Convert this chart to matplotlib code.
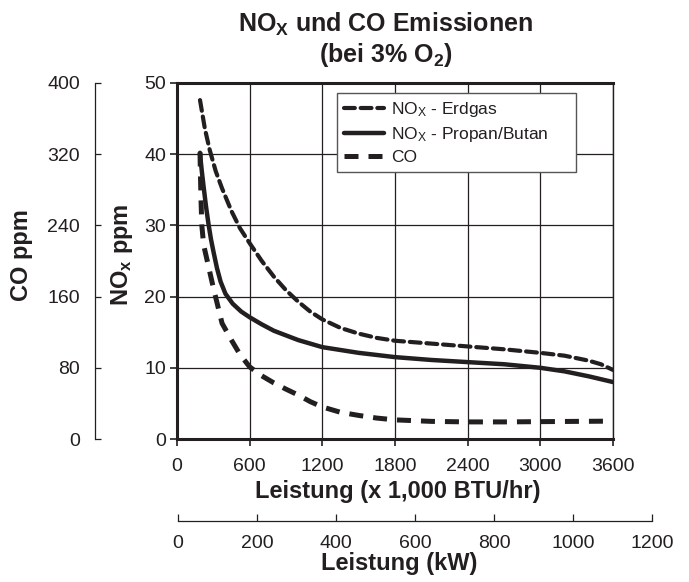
import matplotlib
matplotlib.use("Agg")
from matplotlib import pyplot as plt

# Leistung in 1000 BTU/hr, Emissionen in ppm (bei 3% O2)
erdgas_kbtu = [190, 230, 270, 320, 372, 450, 520, 600, 700, 800, 900, 1000, 1100, 1200,
               1350, 1500, 1650, 1800, 2100, 2400, 2700, 3000, 3200, 3400, 3500, 3600]
erdgas_nox = [47.6, 43.6, 40.6, 37.6, 35.2, 32.0, 29.6, 27.5, 25.0, 22.8, 20.9, 19.3, 17.9, 16.8,
              15.6, 14.8, 14.2, 13.8, 13.4, 13.0, 12.6, 12.1, 11.7, 11.0, 10.5, 9.7]

propan_kbtu = [190, 195, 205, 220, 240, 260, 280, 300, 330, 360, 400, 460, 530, 600, 700, 800,
               1000, 1200, 1500, 1800, 2100, 2400, 2700, 3000, 3200, 3400, 3600]
propan_nox = [40.2, 39.2, 37.6, 35.4, 32.6, 30.2, 28.1, 26.4, 24.0, 22.1, 20.4, 19.0, 17.9, 17.1,
              16.1, 15.2, 13.9, 12.9, 12.1, 11.5, 11.1, 10.8, 10.5, 10.0, 9.5, 8.8, 8.0]

co_kbtu = [190, 193, 198, 205, 220, 250, 300, 372, 450, 520, 600, 700, 800, 900, 1000, 1100,
           1200, 1350, 1500, 1650, 1800, 2100, 2400, 2700, 3000, 3300, 3520]
co_ppm = [322, 300, 270, 240, 218, 200, 170, 130, 111, 95, 81, 71, 63, 56, 49.5, 42,
          36, 30, 26.5, 23.5, 21.5, 19.8, 19.2, 19.2, 19.5, 19.8, 20]

btu_ticks = [0, 600, 1200, 1800, 2400, 3000, 3600]
kw_ticks = [0, 200, 400, 600, 800, 1000, 1200]
nox_ticks = [0, 10, 20, 30, 40, 50]
co_ticks = [0, 80, 160, 240, 320, 400]

DARK = "#231f20"
W, H = 689, 582

plt.rcParams['font.family'] = ['Liberation Sans', 'DejaVu Sans']
plt.rcParams['mathtext.fontset'] = 'custom'
plt.rcParams['mathtext.rm'] = 'Liberation Sans'
plt.rcParams['mathtext.it'] = 'Liberation Sans:italic'
plt.rcParams['mathtext.bf'] = 'Liberation Sans:bold'
plt.rcParams['text.color'] = DARK
plt.rcParams['axes.labelcolor'] = DARK
plt.rcParams['xtick.color'] = DARK
plt.rcParams['ytick.color'] = DARK


def fx(px):
    return px / W


def fy(py):
    return (H - py) / H


fig = plt.figure(figsize=(W / 100, H / 100), dpi=100)

# Hauptachse: NOx
ax = fig.add_axes([fx(177), fy(439), (613 - 177) / W, (439 - 83) / H])
ax.set_xlim(0, 3600)
ax.set_ylim(0, 50)
ax.set_xticks(btu_ticks)
ax.set_yticks(nox_ticks)
ax.grid(True, color=DARK, lw=0.9)
ax.set_axisbelow(True)
for side in ['top', 'left', 'bottom']:
    ax.spines[side].set_linewidth(2.2)
    ax.spines[side].set_color(DARK)
ax.spines['right'].set_linewidth(1.0)
ax.spines['right'].set_color(DARK)
ax.tick_params(axis='x', direction='out', length=5, width=1.2, pad=9, labelsize=14)
ax.tick_params(axis='y', direction='out', length=5, width=1.2, pad=3, labelsize=14)

l1, = ax.plot(erdgas_kbtu, erdgas_nox, color=DARK, lw=3.0, dashes=(2.6, 1.4),
              dash_capstyle='round', solid_joinstyle='round')
l2, = ax.plot(propan_kbtu, propan_nox, color=DARK, lw=3.2, solid_capstyle='round',
              solid_joinstyle='round')

ax.set_xlabel('Leistung (x 1,000 BTU/hr)', fontsize=17, fontweight='bold')
ax.xaxis.set_label_coords(fx(398), fy(480), transform=fig.transFigure)
ax.set_ylabel(r'NO$_\mathbf{x}$ ppm', fontsize=17, fontweight='bold')
ax.yaxis.set_label_coords(fx(135), fy(255), transform=fig.transFigure)

# CO-Achse links aussen
ax2 = ax.twinx()
ax2.set_ylim(0, 400)
ax2.set_yticks(co_ticks)
ax2.yaxis.set_ticks_position('left')
ax2.yaxis.set_label_position('left')
for side in ['top', 'right', 'bottom']:
    ax2.spines[side].set_visible(False)
ax2.spines['left'].set_visible(True)
ax2.spines['left'].set_position(('outward', 59))
ax2.spines['left'].set_linewidth(0.9)
ax2.spines['left'].set_color(DARK)
ax2.tick_params(axis='y', direction='in', length=4, width=0.9, pad=11, labelsize=14)
l3, = ax2.plot(co_kbtu, co_ppm, color=DARK, lw=3.6, dashes=(2.8, 2.0))
ax2.set_ylabel('CO ppm', fontsize=17, fontweight='bold')
ax2.yaxis.set_label_coords(fx(33), fy(255), transform=fig.transFigure)

leg = ax2.legend([l1, l2, l3],
                 [r'NO$_\mathrm{X}$ - Erdgas', r'NO$_\mathrm{X}$ - Propan/Butan', 'CO'],
                 loc='upper left', bbox_to_anchor=(0.367, 0.2, 0.548, 0.772), mode='expand',
                 borderaxespad=0, fontsize=12.5, fancybox=False, framealpha=1,
                 edgecolor='#555555', handlelength=2.3, handletextpad=0.4, labelspacing=0.35,
                 borderpad=0.4)
leg.get_frame().set_linewidth(1.0)

# zweite x-Achse in kW
ax3 = fig.add_axes([fx(178), fy(521), (652 - 178) / W, 0.0001])
ax3.patch.set_visible(False)
ax3.set_xlim(0, 1200)
ax3.set_xticks(kw_ticks)
ax3.set_yticks([])
for side in ['top', 'left', 'right']:
    ax3.spines[side].set_visible(False)
ax3.spines['bottom'].set_linewidth(0.9)
ax3.spines['bottom'].set_color(DARK)
ax3.tick_params(axis='x', direction='in', length=5, width=0.9, pad=10, labelsize=14)
ax3.set_xlabel('Leistung (kW)', fontsize=17, fontweight='bold')
ax3.xaxis.set_label_coords(fx(399), fy(552), transform=fig.transFigure)

# Titel
fig.text(fx(386), fy(32), r'NO$_\mathbf{X}$ und CO Emissionen', ha='center', va='baseline',
         fontsize=18, fontweight='bold')
fig.text(fx(386), fy(62), r'(bei 3% O$_\mathbf{2}$)', ha='center', va='baseline',
         fontsize=18, fontweight='bold')

fig.savefig('out.png', dpi=100)
